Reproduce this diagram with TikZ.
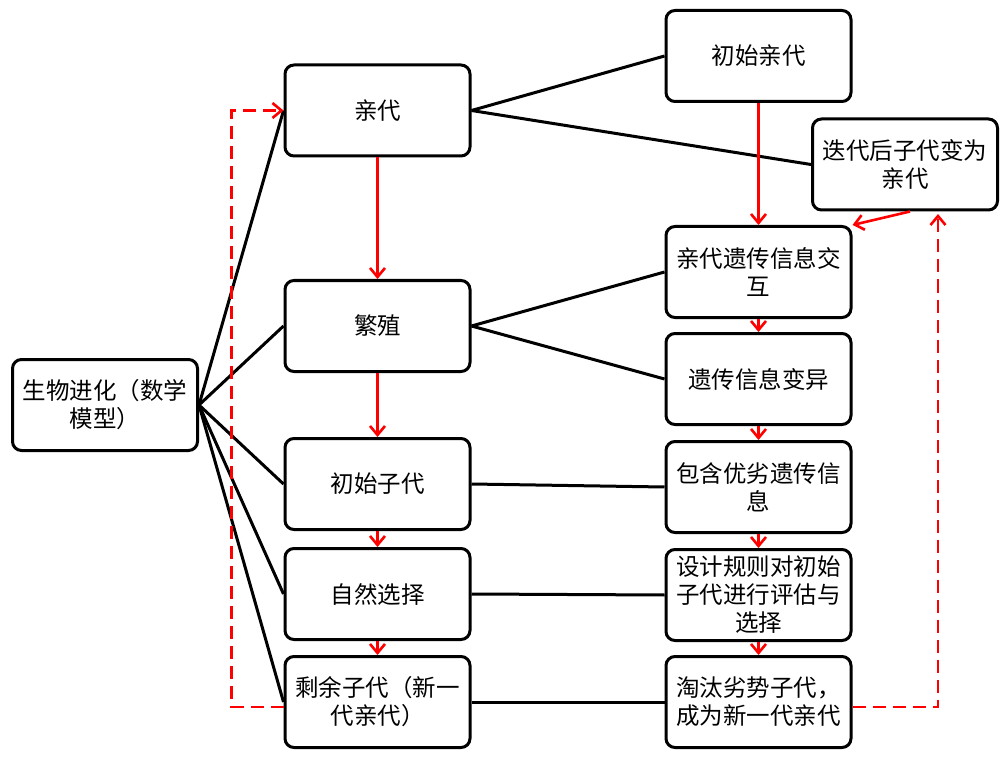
\documentclass[tikz,border=0pt]{standalone}
\usepackage{fontspec}
\setmainfont{Noto Sans CJK SC}
\usetikzlibrary{arrows.meta,calc}
\tikzset{
  box/.style={draw=black, line width=3pt, rounded corners=9pt, fill=white,
    minimum width=185pt, minimum height=91pt, align=center,
    font=\fontsize{23.5}{28}\selectfont, inner sep=1pt},
  link/.style={draw=black, line width=3pt},
  flow/.style={draw=red, line width=2.6pt, -{Straight Barb[length=9pt,width=15pt,line width=2.6pt]}},
  back/.style={flow, dash pattern=on 13pt off 7pt},
}
\begin{document}
\begin{tikzpicture}[x=1pt,y=-1pt]
\useasboundingbox (0,0) rectangle (1007,762);
% left column
\node[box] (root) at (105,405) {生物进化（数学\\模型）};
\node[box] (p) at (377.5,110.5) {亲代};
\node[box] (f) at (377.5,326) {繁殖};
\node[box] (c) at (377.5,484) {初始子代};
\node[box] (s) at (377.5,594) {自然选择};
\node[box] (r) at (377.5,702) {剩余子代（新一\\代亲代）};
% right column
\node[box] (ip) at (758.5,56) {初始亲代};
\node[box] (it) at (905,164.5) {迭代后子代变为\\亲代};
\node[box] (x) at (758.5,272) {亲代遗传信息交\\互};
\node[box] (v) at (758.5,379) {遗传信息变异};
\node[box] (g) at (758.5,487) {包含优劣遗传信\\息};
\node[box] (d) at (758.5,595) {设计规则对初始\\子代进行评估与\\选择};
\node[box] (e) at (758.5,702) {淘汰劣势子代，\\成为新一代亲代};
\coordinate (itb) at (938,214);
% black links
\draw[link] (root.east) -- (p.west);
\draw[link] (root.east) -- (f.west);
\draw[link] (root.east) -- (c.west);
\draw[link] (root.east) -- (s.west);
\draw[link] (root.east) -- (r.west);
\draw[link] (p.east) -- (ip.west);
\draw[link] (p.east) -- (it.west);
\draw[link] (f.east) -- (x.west);
\draw[link] (f.east) -- (v.west);
\draw[link] (c.east) -- (g.west);
\draw[link] (s.east) -- (d.west);
\draw[link] (r.east) -- (e.west);
% red flows
\draw[flow] (p.south) -- (f.north);
\draw[flow] (f.south) -- (c.north);
\draw[flow] (c.south) -- (s.north);
\draw[flow] (s.south) -- (r.north);
\draw[flow] (ip.south) -- (x.north);
\draw[flow] ($(it.south)+(5,0)$) -- (x.north east);
\draw[flow] (x.south) -- (v.north);
\draw[flow] (v.south) -- (g.north);
\draw[flow] (g.south) -- (d.north);
\draw[flow] (d.south) -- (e.north);
% dashed feedback
\draw[back] ($(r.west)+(0,5)$) -- ++(-52,0) |- (p.west);
\draw[back] ($(e.east)+(0,5)$) -| (itb);
\end{tikzpicture}
\end{document}
